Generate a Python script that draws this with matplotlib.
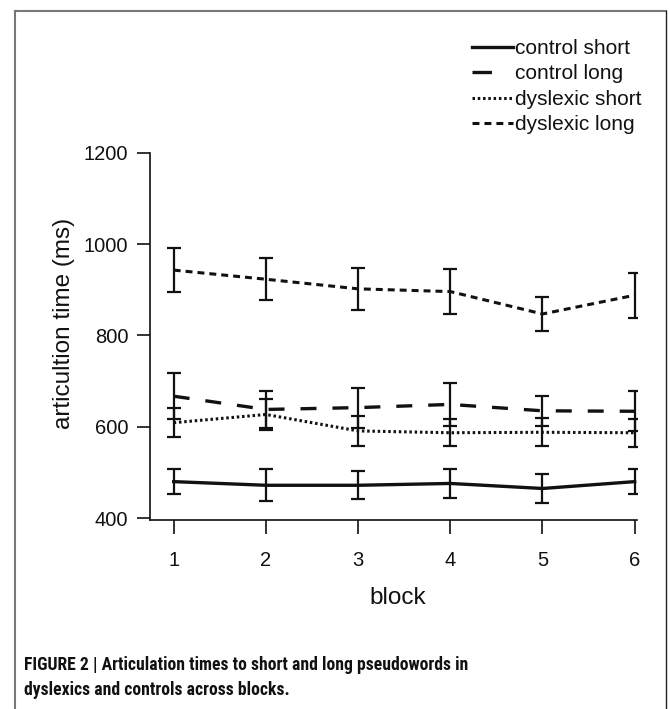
import matplotlib
matplotlib.use("Agg")
import matplotlib.pyplot as plt
from matplotlib.lines import Line2D
from matplotlib import font_manager as fm

plt.rcParams['font.family'] = ['Liberation Sans', 'DejaVu Sans']
plt.rcParams['lines.scale_dashes'] = False

blocks = [1, 2, 3, 4, 5, 6]
series_names = ["control short", "control long", "dyslexic short", "dyslexic long"]
control_short = [480, 472, 472, 476, 465, 480]
control_short_err = [28, 35, 31, 31, 31, 28]
control_long = [667, 638, 642, 649, 635, 634]
control_long_err = [50, 41, 44, 47, 33, 44]
dyslexic_short = [609, 627, 591, 587, 588, 587]
dyslexic_short_err = [32, 34, 32, 30, 31, 31]
dyslexic_long = [943, 923, 902, 896, 847, 888]
dyslexic_long_err = [49, 46, 46, 50, 38, 49]

caption = ('FIGURE 2 | Articulation times to short and long pseudowords in\n'
           'dyslexics and controls across blocks.')

available = {f.name for f in fm.fontManager.ttflist}
cap_family = [f for f in ['Roboto Condensed', 'PT Sans Narrow', 'Liberation Sans'] if f in available] + ['DejaVu Sans']

W, H = 670, 709
fig = plt.figure(figsize=(W / 100, H / 100), dpi=100)

ax = fig.add_axes([150 / W, 1 - 520 / H, (637 - 150) / W, (520 - 152.7) / H])

ink = '#111111'
styles = [
    dict(ls='-', lw=2.4),
    dict(ls=(0, (11.5, 11.5)), lw=2.4),
    dict(ls=(0, (1.8, 2.0)), lw=2.2),
    dict(ls=(0, (5.0, 3.6)), lw=2.2),
]
data = [(control_short, control_short_err), (control_long, control_long_err),
        (dyslexic_short, dyslexic_short_err), (dyslexic_long, dyslexic_long_err)]

for (vals, errs), st in zip(data, styles):
    ax.plot(blocks, vals, color=ink, **st)
    ax.errorbar(blocks, vals, yerr=errs, fmt='none', ecolor=ink, elinewidth=1.6,
                capsize=5, capthick=1.6)

ax.set_xlim(0.743, 6.025)
ax.set_ylim(396, 1200)
ax.set_xticks(blocks)
ax.set_yticks([400, 600, 800, 1000, 1200])
for s in ['top', 'right']:
    ax.spines[s].set_visible(False)
for s in ['left', 'bottom']:
    ax.spines[s].set_linewidth(1.2)
    ax.spines[s].set_color(ink)
ax.tick_params(axis='y', length=9.5, width=1.2, pad=6, labelsize=14.5, colors=ink)
ax.tick_params(axis='x', length=10, width=1.2, pad=12, labelsize=14.5, colors=ink)
ax.set_xlabel('block', fontsize=17.5, color=ink)
ax.xaxis.set_label_coords((398 - 150) / 487, (520 - 587) / 367.3)
ax.set_ylabel('articultion time (ms)', fontsize=17.5, color=ink)
ax.yaxis.set_label_coords((75 - 150) / 487, (520 - 323) / 367.3)

# legend
handles = [
    Line2D([], [], color=ink, ls='-', lw=2.4),
    Line2D([], [], color=ink, ls=(0, (14, 30)), lw=2.4),
    Line2D([], [], color=ink, ls=(0, (1.8, 2.0)), lw=2.2),
    Line2D([], [], color=ink, ls=(0, (5.0, 3.6)), lw=2.2),
]
leg = fig.legend(handles, series_names, loc='upper left', bbox_to_anchor=(472 / W, 1 - 39 / H),
                 frameon=False, fontsize=15, handlelength=1.95, handletextpad=0.1,
                 labelspacing=0.31, borderpad=0, borderaxespad=0)
for t in leg.get_texts():
    t.set_color(ink)

# caption
fig.text(24 / W, 1 - 695 / H, caption,
         fontsize=12.7, fontweight='bold', va='baseline', ha='left', color=ink,
         family=cap_family, linespacing=1.5)

# frame
fig.add_artist(Line2D([14.5 / W, 14.5 / W], [0, 1 - 11 / H], color='#777777', lw=1.5,
                      transform=fig.transFigure))
fig.add_artist(Line2D([14.5 / W, 666 / W], [1 - 11 / H, 1 - 11 / H], color='#777777', lw=1.5,
                      transform=fig.transFigure))
fig.add_artist(Line2D([666 / W, 666 / W], [0, 1 - 11 / H], color='#222222', lw=1.0,
                      transform=fig.transFigure))

fig.savefig('out.png', dpi=100)
